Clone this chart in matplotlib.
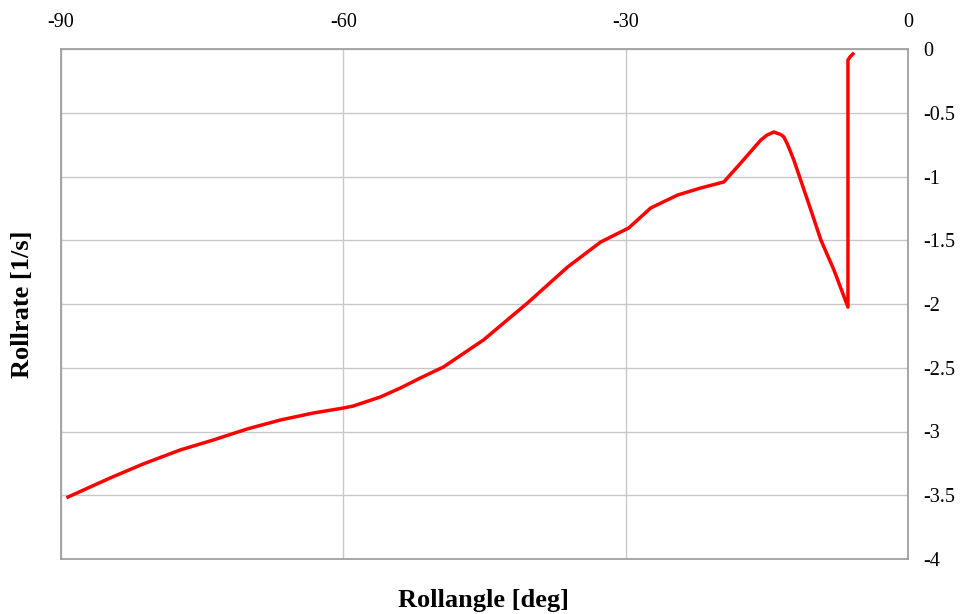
import matplotlib.pyplot as plt
import numpy as np

plt.rcParams["font.family"] = ["Liberation Serif", "DejaVu Serif"]

# roll angle [deg] and roll rate [1/s] along the manoeuvre
rollangle = [
    -89.26, -84.79, -81.28, -77.34, -73.83, -70.21, -66.70, -63.19, -60.00,
    -58.94, -56.06, -53.94, -51.81, -49.36, -45.11, -40.43, -36.17, -32.66,
    -29.68, -27.34, -24.47, -22.02, -19.57, -17.77, -15.64, -15.00, -14.26,
    -13.51, -13.19, -12.77, -12.13, -10.32, -9.26, -7.87, -6.38, -6.38,
    -6.17, -5.85,
]
rollrate = [
    -3.514, -3.365, -3.255, -3.145, -3.067, -2.980, -2.910, -2.855, -2.816,
    -2.800, -2.729, -2.659, -2.580, -2.494, -2.282, -1.992, -1.710, -1.514,
    -1.404, -1.247, -1.145, -1.090, -1.043, -0.894, -0.714, -0.676, -0.651,
    -0.671, -0.690, -0.753, -0.871, -1.263, -1.498, -1.733, -2.024, -0.086,
    -0.063, -0.039,
]

xticks = [-90, -60, -30, 0]
yticks = np.arange(-4, 0.01, 0.5)

fig = plt.figure(figsize=(9.6, 6.14), dpi=100)
ax = fig.add_axes([61 / 960, 1 - 559 / 614, 847 / 960, 510 / 614])

ax.plot(rollangle, rollrate, color="#ff0000", lw=2.5, solid_joinstyle="round")

ax.set_xlim(-90, 0)
ax.set_ylim(-4, 0)
ax.set_xticks(xticks)
ax.set_xticklabels([str(t) for t in xticks])
ax.set_yticks(yticks)
ax.set_yticklabels(["%g" % t for t in yticks])

ax.xaxis.tick_top()
ax.yaxis.tick_right()
ax.tick_params(length=0, labelsize=14.5, pad=12)
ax.tick_params(axis="y", pad=11)

ax.grid(True, color="#c8c8c8", lw=1)
ax.set_axisbelow(True)
for s in ax.spines.values():
    s.set_color("#a0a0a0")
    s.set_linewidth(1.3)

fig.text(484 / 960, 1 - 600 / 614, "Rollangle [deg]", ha="center", va="center",
         fontsize=19, fontweight="bold")
fig.text(23 / 960, 1 - 304 / 614, "Rollrate [1/s]", ha="center", va="center",
         rotation=90, fontsize=19, fontweight="bold")

fig.savefig("out.png", dpi=100)
